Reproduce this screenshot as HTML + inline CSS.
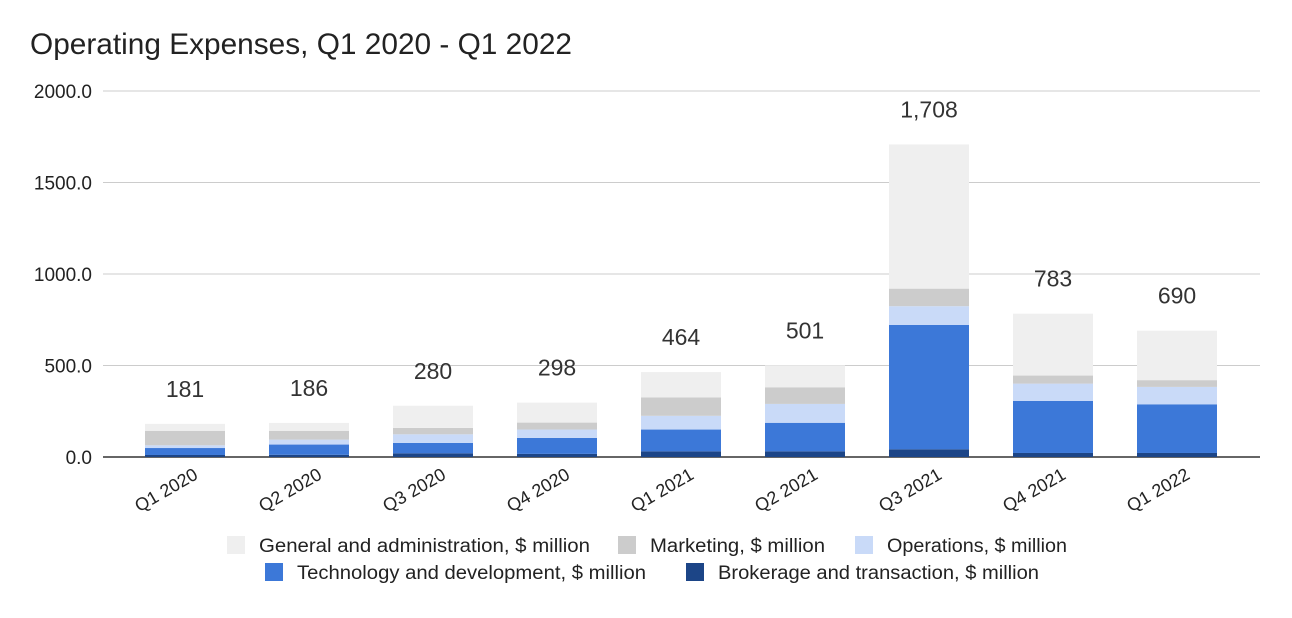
<!DOCTYPE html>
<html><head><meta charset="utf-8"><style>
body{margin:0;background:#fff;font-family:"Liberation Sans",Arial,sans-serif}
svg text{font-family:"Liberation Sans",Arial,sans-serif}
</style></head><body>
<svg id="c" width="1292" height="613">
<text x="30" y="54" font-size="30" fill="#222" textLength="542" lengthAdjust="spacingAndGlyphs">Operating Expenses, Q1 2020 - Q1 2022</text>
<g id="grid"></g><g id="bars"></g><g id="labels"></g>
<g id="legend"></g>
</svg>
<script>
const categories=["Q1 2020","Q2 2020","Q3 2020","Q4 2020","Q1 2021","Q2 2021","Q3 2021","Q4 2021","Q1 2022"];
const brokerage=[11,12,20,17,31,31,42,22,22];
const technology=[38,56,57,87,119,156,680,284,266];
const operations=[15,27,47,46,75,103,102,95,95];
const marketing=[79,48,35,38,101,91,96,44,37];
const general=[38,43,121,109,138,120,788,338,270];
const totals=["181","186","280","298","464","501","1,708","783","690"];
const yTicks=[0,500,1000,1500,2000];
const yTickLabels=["0.0","500.0","1000.0","1500.0","2000.0"];
const series=[brokerage,technology,operations,marketing,general];
const seriesNames=["Brokerage and transaction, $ million","Technology and development, $ million","Operations, $ million","Marketing, $ million","General and administration, $ million"];
const colors=["#1c4587","#3c78d8","#c9daf8","#cccccc","#efefef"];
const NS="http://www.w3.org/2000/svg";
const y0=457,yTop=91,yMax=2000;
function y(v){return y0-(v/yMax)*(y0-yTop);}
function xc(i){return 185+i*124;}
const bw=80;
function mk(tag,attrs,parent){const e=document.createElementNS(NS,tag);for(const k in attrs)e.setAttribute(k,attrs[k]);parent.appendChild(e);return e;}
const grid=document.getElementById('grid'),bars=document.getElementById('bars'),labels=document.getElementById('labels'),legend=document.getElementById('legend');
yTicks.forEach((t,i)=>{
  const l=mk('line',{x1:103,x2:1260,y1:y(t),y2:y(t),stroke:i==0?'#333':'#ccc','stroke-width':i==0?1.5:1},grid);
  
  
  const tx=mk('text',{x:92,y:y(t)+7,'text-anchor':'end','font-size':19,fill:'#222'},grid);
  tx.textContent=yTickLabels[i];
  
  
});
categories.forEach((c,i)=>{
  let cum=0;
  series.forEach((s,k)=>{
    const r=mk('rect',{x:xc(i)-bw/2,y:y(cum+s[i]),width:bw,height:y(cum)-y(cum+s[i]),fill:colors[k]},bars);
    
    
    cum+=s[i];
  });
  const t=mk('text',{x:xc(i),y:y(cum)-27,'text-anchor':'middle','font-size':23,fill:'#333'},labels);
  t.textContent=totals[i];
  
  
  const xl=mk('text',{x:xc(i)+14,y:478,'text-anchor':'end','font-size':18,fill:'#222',transform:`rotate(-30 ${xc(i)+14} 478)`},labels);
  xl.textContent=c;
  
  
});
const legendItems=[[4,227,545,331],[3,618,545,175],[2,855,545,180],[1,265,572,349],[0,686,572,321]];
legendItems.forEach(([k,x,yy,w])=>{
  const g=mk('g',{},legend);
  
  
  mk('rect',{x:x,y:yy-9,width:18,height:18,fill:colors[k]},g);
  const t=mk('text',{x:x+32,y:yy+7,'font-size':19,fill:'#222',textLength:w,lengthAdjust:'spacingAndGlyphs'},g);
  t.textContent=seriesNames[k];
});
</script>
</body></html>
